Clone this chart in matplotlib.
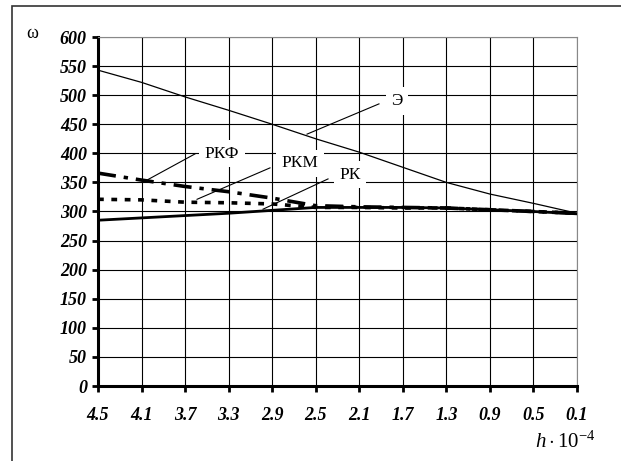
import matplotlib
matplotlib.use("Agg")
import matplotlib.pyplot as plt
from matplotlib.patches import Rectangle

# step h (x 10^-4) and the four curves
h = [4.5, 4.1, 3.7, 3.3, 2.9, 2.5, 2.1, 1.7, 1.3, 0.9, 0.5, 0.1]
w_E = [543, 522, 497, 474, 450, 425, 402, 376, 350, 330, 314, 297]
w_RKF = [366, 354, 343, 334, 323, 310, 308, 307, 306, 303, 300, 297]
w_RKM = [321, 320, 316, 315, 313, 307, 307, 306, 306, 303, 300, 297]
w_RK = [285, 289, 293, 297, 302, 307, 307, 307, 306, 303, 300, 296]
y_ticks = list(range(0, 601, 50))

plt.rcParams["font.family"] = ["Liberation Serif", "DejaVu Serif"]
plt.rcParams["mathtext.fontset"] = "custom"
plt.rcParams["mathtext.rm"] = "Liberation Serif"
plt.rcParams["mathtext.it"] = "Liberation Serif:italic"

fig = plt.figure(figsize=(6.21, 4.61), dpi=100)
ax = fig.add_axes([98 / 621, 1 - 386 / 461, (577 - 98) / 621, (386 - 37) / 461])

# outer frame (only left/top edges visible in the original)
fig.patches.append(Rectangle((12 / 621, -0.2), 1.2, 1 - 6 / 461 + 0.2,
                             transform=fig.transFigure, fill=False,
                             edgecolor="#333333", lw=1.2))

ax.plot(h, w_E, color="black", lw=0.9, zorder=3)
ax.plot(h, w_RKF, color="black", lw=2.6, dashes=(5, 2.2, 1.2, 2.2), zorder=3)
ax.plot(h, w_RKM, color="black", lw=2.6, dashes=(1.6, 2.1), zorder=3)
ax.plot(h, w_RK, color="black", lw=2.0, zorder=3)

ax.set_xlim(4.5, 0.1)
ax.set_ylim(0, 600)
ax.set_xticks(h)
ax.set_xticklabels([f"{v:.1f}" for v in h])
ax.set_yticks(y_ticks)
ax.grid(True, color="black", lw=0.8)
ax.set_axisbelow(True)

for lab in ax.get_xticklabels() + ax.get_yticklabels():
    lab.set_fontweight("bold")
    lab.set_fontstyle("italic")
    lab.set_fontsize(13)

ax.spines["left"].set_linewidth(2.2)
ax.spines["bottom"].set_linewidth(2.2)
ax.spines["top"].set_color("#888888")
ax.spines["right"].set_color("#888888")
ax.tick_params(axis="x", direction="out", length=4, width=2, pad=11)
ax.tick_params(axis="y", direction="out", length=4, width=2, pad=4)

# curve labels with leader lines
labels = [
    ("Э", 1.753, 490, (1.919, 2.58), (485, 433)),
    ("РКФ", 3.361, 399, (3.609, 4.05), (399, 354)),
    ("РКМ", 2.644, 383, (2.92, 3.59), (375, 321)),
    ("РК", 2.185, 363, (2.387, 2.984), (356, 304)),
]
for txt, tx, ty, lx, ly in labels:
    ax.plot(lx, ly, color="black", lw=0.8, zorder=4)
    ax.text(tx, ty, txt, ha="center", va="center", fontsize=12.5, zorder=5,
            bbox=dict(facecolor="white", edgecolor="none", pad=4))

fig.text(32 / 621, 1 - 33 / 461, "ω", ha="center", va="center", fontsize=13)
fig.text(565 / 621, 1 - 442 / 461, r"$h\cdot10^{-4}$", ha="center", va="center",
         fontsize=15)

fig.savefig("out.png", dpi=100)
